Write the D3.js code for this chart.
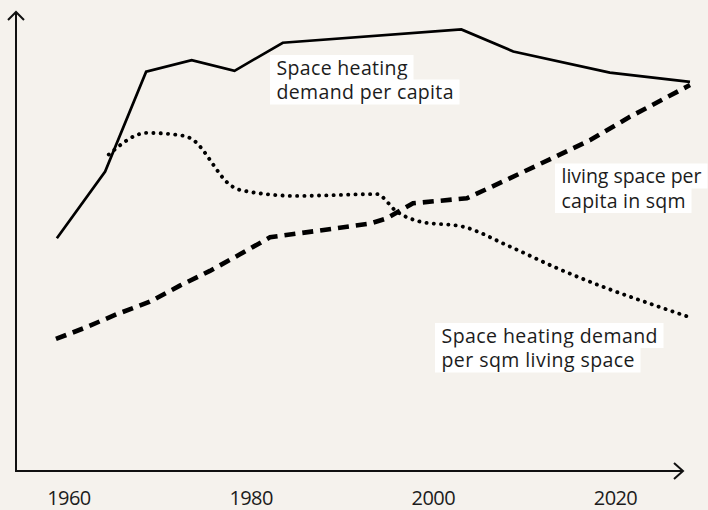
<!DOCTYPE html>
<html>
<head>
<meta charset="utf-8">
<script src="https://cdn.jsdelivr.net/npm/d3@7"></script>
<style>
  html, body { margin: 0; padding: 0; background: #f5f2ed; }
  svg { display: block; }
  text { font-family: "Open Sans", Lato, sans-serif; fill: #1c1c1c; }
</style>
</head>
<body>
<svg id="chart" width="708" height="510"></svg>
<script>
// ---- data (index values) ----
const perCapitaYears = [1958.7, 1964.0, 1968.5, 1973.5, 1978.2, 1983.5, 2003.1, 2008.8, 2019.4, 2028.2];
const perCapitaValues = [50.6, 65.1, 86.8, 89.3, 87.0, 93.1, 96.0, 91.2, 86.6, 84.6];

const livingSpaceYears = [1958.6, 1961.6, 1965.3, 1968.9, 1972.2, 1975.5, 1978.8, 1982.1, 1985.4, 1993.1, 1994.9, 1997.8, 2003.7, 2008.4, 2017.2, 2021.6, 2028.2];
const livingSpaceValues = [28.7, 31.0, 34.1, 36.8, 40.3, 43.5, 47.1, 50.8, 51.7, 53.8, 54.9, 58.2, 59.3, 63.6, 71.9, 77.0, 83.9];

const perSqmYears = [1964.4, 1968.6, 1972.5, 1973.3, 1978.0, 1978.8, 1985.0, 1993.8, 1996.0, 1998.6, 2003.3, 2008.1, 2013.6, 2019.1, 2024.5, 2028.5];
const perSqmValues = [68.8, 73.5, 72.9, 72.4, 61.8, 61.1, 59.8, 60.2, 56.4, 54.2, 53.1, 49.1, 44.1, 39.7, 35.9, 33.2];

const tickYears = [1960, 1980, 2000, 2020];
const tickLabels = ["1960", "1980", "2000", "2020"];

const labelPerCapita = ["Space heating", "demand per capita"];
const labelLivingSpace = ["living space per", "capita in sqm"];
const labelPerSqm = ["Space heating demand", "per sqm living space"];

// ---- layout ----
const svg = d3.select("#chart");
const axisX0 = 16, axisY0 = 471, axisTop = 12, axisRight = 683;

const x = d3.scaleLinear().domain([1960, 2020]).range([68.7, 615.3]);
const y = d3.scaleLinear().domain([0, 100]).range([471, 11]);

// axes with arrows
const axisG = svg.append("g").attr("stroke", "#111").attr("stroke-width", 2).attr("fill", "none");
axisG.append("line").attr("x1", axisX0).attr("y1", axisY0).attr("x2", axisX0).attr("y2", axisTop);
axisG.append("line").attr("x1", axisX0 - 1).attr("y1", axisY0).attr("x2", axisRight).attr("y2", axisY0);
axisG.append("path").attr("d", `M${axisX0 - 8},${axisTop + 8} L${axisX0},${axisTop} L${axisX0 + 8},${axisTop + 8}`);
axisG.append("path").attr("d", `M${axisRight - 9},${axisY0 - 8} L${axisRight},${axisY0} L${axisRight - 9},${axisY0 + 8}`);

// x tick labels via d3 axis
const xAxis = d3.axisBottom(x).tickValues(tickYears).tickSize(0).tickPadding(0)
  .tickFormat((d, i) => tickLabels[i]);
const gx = svg.append("g").attr("transform", `translate(0, 490)`).call(xAxis);
gx.attr("font-size", null).attr("font-family", null);
gx.select(".domain").remove();
gx.selectAll("text").attr("dy", null).attr("y", 14.5)
  .style("font-size", "20px")
  .attr("textLength", 44).attr("lengthAdjust", "spacing")
  .style("font-family", '"Open Sans", Lato, sans-serif').attr("fill", "#1c1c1c");

// lines
const zip = (xs, ys) => xs.map((d, i) => [d, ys[i]]);
const lineLin = d3.line().x(d => x(d[0])).y(d => y(d[1]));
const lineSmooth = d3.line().x(d => x(d[0])).y(d => y(d[1])).curve(d3.curveMonotoneX);

svg.append("path").datum(zip(livingSpaceYears, livingSpaceValues))
  .attr("d", lineLin).attr("fill", "none").attr("stroke", "#000")
  .attr("stroke-width", 4.6).attr("stroke-dasharray", "11,7");

svg.append("path").datum(zip(perSqmYears, perSqmValues))
  .attr("d", lineSmooth).attr("fill", "none").attr("stroke", "#000")
  .attr("stroke-width", 3.9).attr("stroke-linecap", "round").attr("stroke-dasharray", "0.1,7.2");

svg.append("path").datum(zip(perCapitaYears, perCapitaValues))
  .attr("d", lineLin).attr("fill", "none").attr("stroke", "#000")
  .attr("stroke-width", 2.7).attr("stroke-linejoin", "miter");

// labels with white boxes per line; each line fitted to the width seen in the reference
function boxedLabel(lines, widths, left, top) {
  const lh = 24.5, padL = 6.5, padR = 6;
  const g = svg.append("g");
  lines.forEach((t, i) => {
    g.append("rect").attr("fill", "#ffffff")
      .attr("x", left).attr("y", top + i * lh)
      .attr("width", widths[i] + padL + padR).attr("height", lh + 0.5);
    g.append("text").attr("x", left + padL).attr("y", top + i * lh + 19.5)
      .style("font-size", "19.5px")
      .attr("textLength", widths[i]).attr("lengthAdjust", "spacing")
      .text(t);
  });
}
boxedLabel(labelPerCapita, [131, 177], 270, 55);
boxedLabel(labelLivingSpace, [140, 124], 555, 163.5);
boxedLabel(labelPerSqm, [216, 193], 435, 323);
</script>
</body>
</html>
